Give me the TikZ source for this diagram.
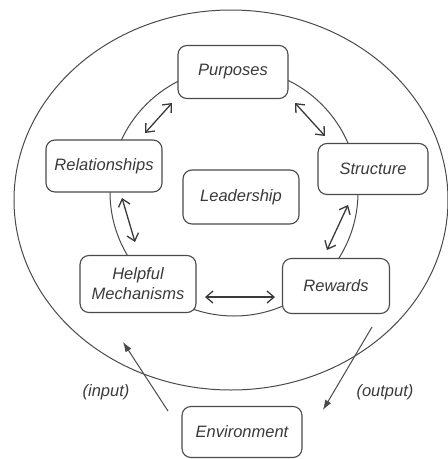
\documentclass[tikz,border=0pt]{standalone}
\usepackage{fontspec}
\setmainfont{Liberation Sans}
\usetikzlibrary{arrows.meta}
\definecolor{txt}{HTML}{3A3A3A}
\definecolor{ln}{HTML}{4A4A4A}
\begin{document}
\begin{tikzpicture}[x=1pt,y=-1pt,
  box/.style={draw=ln,line width=1.1pt,rounded corners=9pt,fill=white,
    text=txt,font=\fontsize{16.5}{20}\selectfont\itshape,align=center,inner sep=0pt},
  dbl/.style={draw=txt,line width=1.3pt,{Straight Barb[length=7pt,width=12pt]}-{Straight Barb[length=7pt,width=12pt]}},
  flow/.style={draw=ln,line width=1pt,-{Latex[length=10pt,width=7pt]}},
  lbl/.style={text=txt,font=\fontsize{16.5}{20}\selectfont\itshape,inner sep=0pt}]
\useasboundingbox (0,0) rectangle (448,459);
% outer ellipse and inner circle
\draw[ln,line width=1pt] (231,200) ellipse [x radius=217, y radius=190];
\draw[ln,line width=1pt] (234,192) circle [radius=124];
% boxes
\node[box,minimum width=110pt,minimum height=53pt] (P) at (233,72) {Purposes};
\node[box,minimum width=116pt,minimum height=52pt] (R) at (104,166) {Relationships};
\node[box,minimum width=110pt,minimum height=51pt] (S) at (373,169) {Structure};
\node[box,minimum width=116pt,minimum height=54pt] (L) at (241,197) {Leadership};
\node[box,minimum width=116pt,minimum height=57pt] (H) at (138,284) {Helpful\\Mechanisms};
\node[box,minimum width=107pt,minimum height=55pt] (W) at (336,286) {Rewards};
\node[box,minimum width=120pt,minimum height=51pt] (E) at (242,432) {Environment};
% labels
\node[lbl] (in) at (106,392) {(input)};
\node[lbl] (out) at (385,392) {(output)};
% arrow end points
\coordinate (pr1) at (172,103); \coordinate (pr2) at (145,133);
\coordinate (ps1) at (295,103); \coordinate (ps2) at (325,136);
\coordinate (rh1) at (122,198); \coordinate (rh2) at (135,242);
\coordinate (sw1) at (348,205); \coordinate (sw2) at (327,250);
\coordinate (hw1) at (205,297); \coordinate (hw2) at (275,297);
\coordinate (ei1) at (168,411); \coordinate (ei2) at (123,342);
\coordinate (eo1) at (372,327); \coordinate (eo2) at (323,410);
% connectors
\draw[dbl] (pr1) -- (pr2);
\draw[dbl] (ps1) -- (ps2);
\draw[dbl] (rh1) -- (rh2);
\draw[dbl] (sw1) -- (sw2);
\draw[dbl] (hw1) -- (hw2);
\draw[flow] (ei1) -- (ei2);
\draw[flow] (eo1) -- (eo2);
\end{tikzpicture}
\end{document}
